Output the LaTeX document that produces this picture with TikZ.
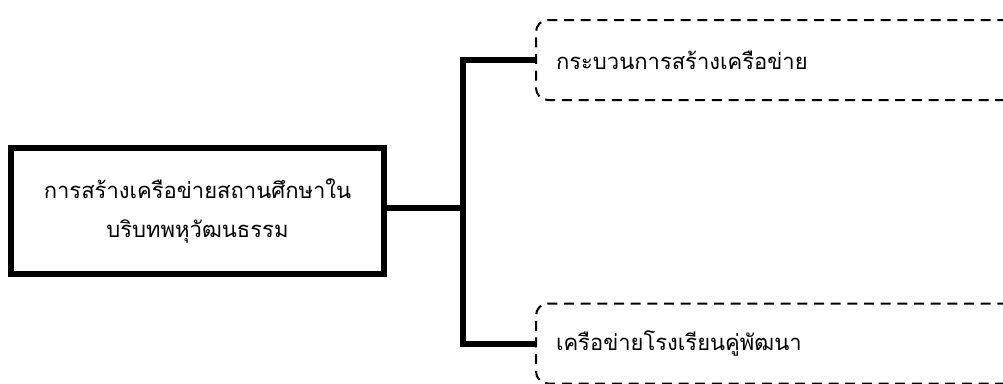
\documentclass[tikz,border=0pt]{standalone}
\usepackage{fontspec}
\newfontfamily\thaifont[Script=Thai]{Loma}
\usetikzlibrary{positioning}

\begin{document}
\begin{tikzpicture}[
  x=0.75pt,
  y=-0.75pt,
  font=\thaifont\fontsize{16.5}{29}\selectfont,
  mainbox/.style={
    draw,
    line width=4.5pt,
    minimum width=280pt,
    minimum height=94.5pt,
    align=center
  },
  subbox/.style={
    draw,
    line width=1.5pt,
    dash pattern=on 7.5pt off 5pt,
    rounded corners=9pt,
    minimum width=400pt,
    minimum height=60pt,
    text width=370pt,
    align=left,
    inner xsep=15pt
  },
  branch/.style={
    line width=4.5pt,
    line join=miter
  }
]
  \useasboundingbox (0,0) rectangle (1003,383);
  \clip (0,0) rectangle (1003,383);
  \node[mainbox] (root) at (197.5,211)
    {การสร้างเครือข่ายสถานศึกษาใน\\บริบทพหุวัฒนธรรม};
  \node[subbox,anchor=west] (process) at (535,60)
    {กระบวนการสร้างเครือข่าย};
  \node[subbox,anchor=west] (partner) at (535,343.5)
    {เครือข่ายโรงเรียนคู่พัฒนา};
  \coordinate (split) at (463,208);
  \draw[branch] (root.east |- split) -- (split);
  \draw[branch] (split) |- (process.west);
  \draw[branch] (split) |- (partner.west);
\end{tikzpicture}
\end{document}
